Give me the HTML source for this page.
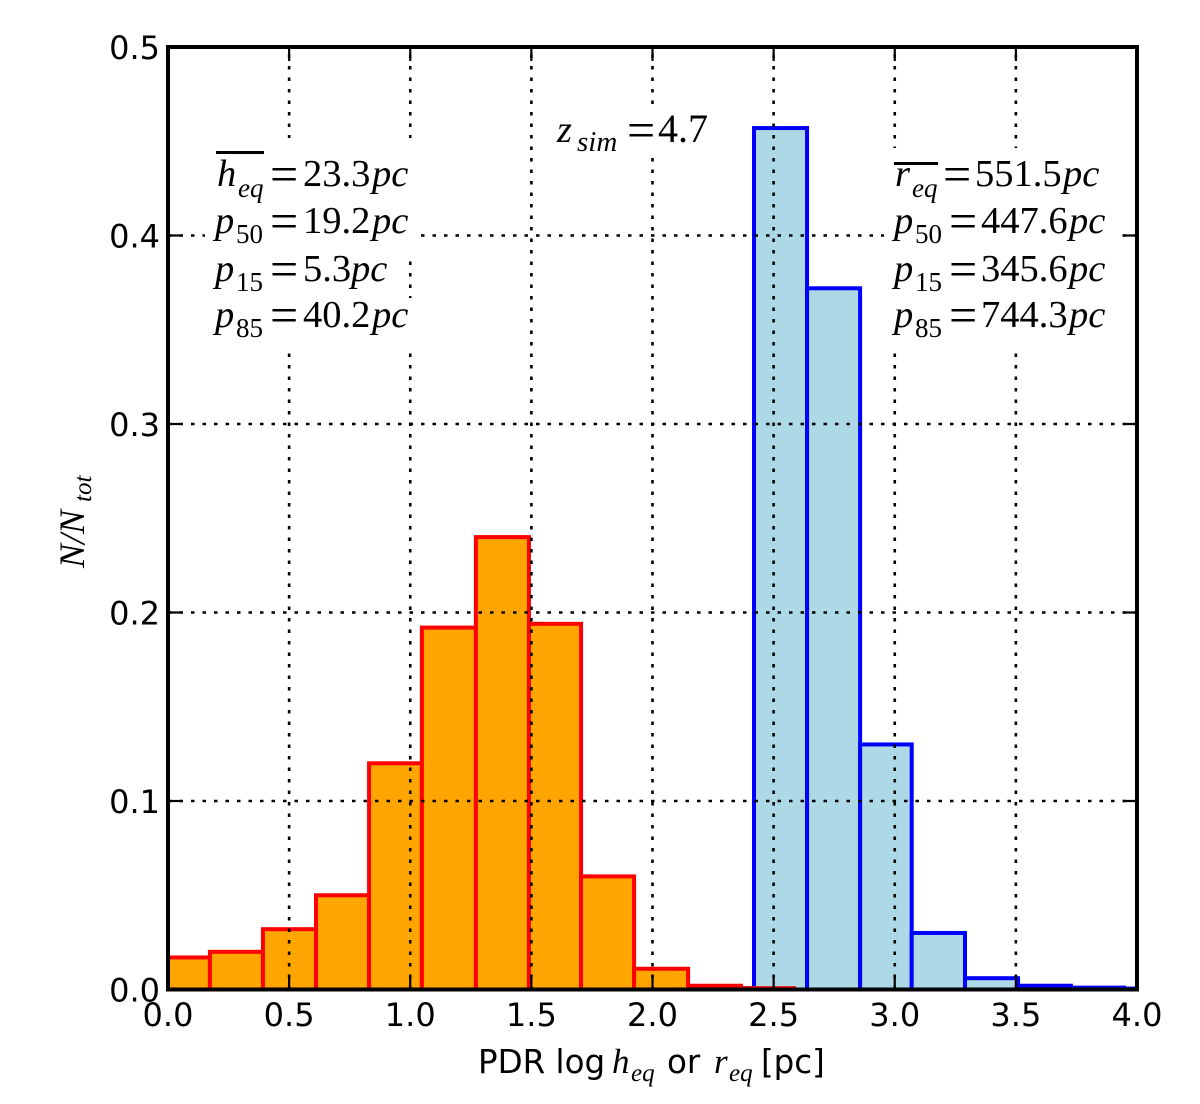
<!DOCTYPE html>
<html lang="en">
<head>
<meta charset="utf-8">
<title>PDR size histogram</title>
<style>
html,body{margin:0;padding:0;background:#fff;}
svg{display:block;}
.tick{font-family:"DejaVu Sans",sans-serif;font-size:32px;fill:#000;}
.title{font-family:"DejaVu Sans",sans-serif;font-size:32.5px;fill:#000;}
.m{font-family:"Liberation Serif",serif;font-size:38.5px;fill:#000;}
.i{font-style:italic;}
.s{font-size:27px;}
.e{font-size:50px;}
</style>
</head>
<body>
<svg id="chart" width="1200" height="1104" viewBox="0 0 1200 1104" xmlns="http://www.w3.org/2000/svg">
<defs><clipPath id="plot-clip"><rect x="168" y="47" width="969" height="942.5"/></clipPath></defs>
<rect width="1200" height="1104" fill="#fff"/>
<g id="bars-blue" clip-path="url(#plot-clip)"></g>
<g id="bars-orange" clip-path="url(#plot-clip)"></g>
<g id="grid"></g>

<g fill="#fff">
<rect x="547" y="108" width="171" height="50"/>
<rect x="205" y="138" width="215" height="70"/>
<rect x="205" y="208" width="215" height="49"/>
<rect x="205" y="257" width="195" height="41"/>
<rect x="205" y="298" width="215" height="49"/>
<rect x="884" y="148" width="236" height="60"/>
<rect x="884" y="208" width="236" height="139"/>
</g>

<g id="annotation-redshift">
<text class="m"><tspan class="i" x="557" y="142">z</tspan><tspan class="i s" x="577" y="151" style="font-size:29px">sim</tspan><tspan class="e" x="627" y="147">=</tspan><tspan x="658" y="142" style="font-size:40px">4.7</tspan></text>
</g>

<g>
<rect x="216" y="151" width="48" height="3" fill="#000"/>
<text class="m"><tspan class="i" x="217" y="186">h</tspan><tspan class="i s" x="238" y="197">eq</tspan><tspan class="e" x="270" y="191">=</tspan><tspan x="303" y="186">23.3</tspan><tspan class="i" x="372" y="186">pc</tspan></text>
<text class="m"><tspan class="i" x="215" y="233">p</tspan><tspan class="s" x="236" y="243">50</tspan><tspan class="e" x="270" y="238">=</tspan><tspan x="303" y="233">19.2</tspan><tspan class="i" x="372" y="233">pc</tspan></text>
<text class="m"><tspan class="i" x="215" y="281">p</tspan><tspan class="s" x="236" y="291">15</tspan><tspan class="e" x="270" y="286">=</tspan><tspan x="303" y="281">5.3</tspan><tspan class="i" x="351" y="281">pc</tspan></text>
<text class="m"><tspan class="i" x="215" y="327">p</tspan><tspan class="s" x="236" y="337">85</tspan><tspan class="e" x="270" y="332">=</tspan><tspan x="303" y="327">40.2</tspan><tspan class="i" x="372" y="327">pc</tspan></text>
</g>

<g>
<rect x="894" y="162" width="44" height="3" fill="#000"/>
<text class="m"><tspan class="i" x="895" y="186">r</tspan><tspan class="i s" x="912" y="197">eq</tspan><tspan class="e" x="943" y="191">=</tspan><tspan x="975" y="186">551.5</tspan><tspan class="i" x="1063" y="186">pc</tspan></text>
<text class="m"><tspan class="i" x="894" y="233">p</tspan><tspan class="s" x="915" y="243">50</tspan><tspan class="e" x="949" y="238">=</tspan><tspan x="981" y="233">447.6</tspan><tspan class="i" x="1069" y="233">pc</tspan></text>
<text class="m"><tspan class="i" x="894" y="281">p</tspan><tspan class="s" x="915" y="291">15</tspan><tspan class="e" x="949" y="286">=</tspan><tspan x="981" y="281">345.6</tspan><tspan class="i" x="1069" y="281">pc</tspan></text>
<text class="m"><tspan class="i" x="894" y="327">p</tspan><tspan class="s" x="915" y="337">85</tspan><tspan class="e" x="949" y="332">=</tspan><tspan x="981" y="327">744.3</tspan><tspan class="i" x="1069" y="327">pc</tspan></text>
</g>

<g id="ticks"></g>
<rect x="168" y="47" width="969" height="942.5" fill="none" stroke="#000" stroke-width="4"/>
<g id="tick-labels"></g>

<text class="title"><tspan x="478" y="1073">PDR log</tspan><tspan class="m i" style="font-size:35px" x="612" y="1073">h</tspan><tspan class="m i" style="font-size:25px" x="631" y="1081">eq</tspan><tspan x="667" y="1073">or</tspan><tspan class="m i" style="font-size:35px" x="714" y="1073">r</tspan><tspan class="m i" style="font-size:25px" x="729" y="1081">eq</tspan><tspan x="761" y="1073">[pc]</tspan></text>

<text class="m i" style="font-size:36px" transform="translate(84,568) rotate(-90)"><tspan x="0" y="0">N/N</tspan><tspan style="font-size:25px" x="66" y="7">tot</tspan></text>
</svg>

<script>
const orangeEdges = [-0.045, 0.173, 0.392, 0.611, 0.83, 1.048, 1.271, 1.49, 1.705, 1.924, 2.147, 2.365, 2.584];
const orangeValues = [0.017, 0.020, 0.032, 0.050, 0.120, 0.192, 0.240, 0.194, 0.060, 0.011, 0.002, 0.0007];
const blueEdges = [2.2, 2.419, 2.638, 2.857, 3.07, 3.29, 3.509, 3.727, 3.946, 4.165];
const blueValues = [0.0007, 0.457, 0.372, 0.130, 0.030, 0.006, 0.002, 0.001, 0.0005];
const xTicks = [0, 0.5, 1, 1.5, 2, 2.5, 3, 3.5, 4];
const yTicks = [0, 0.1, 0.2, 0.3, 0.4, 0.5];

const NS = 'http://www.w3.org/2000/svg';
const xScale = v => 168 + (v - 0) / 4 * 969;
const yScale = v => 989.5 - (v - 0) / 0.5 * 942.5;

function make(tag, attrs, parent) {
  const el = document.createElementNS(NS, tag);
  for (const k in attrs) el.setAttribute(k, attrs[k]);
  parent.appendChild(el);
  return el;
}

function drawBars(groupId, edges, values, fill, stroke, nameBase) {
  const g = document.getElementById(groupId);
  values.forEach((v, i) => {
    const x0 = xScale(edges[i]);
    const x1 = xScale(edges[i + 1]);
    const y = yScale(v);
    const bar = make('rect', {
      x: x0, y: y, width: x1 - x0, height: yScale(0) - y,
      fill: fill, stroke: stroke, 'stroke-width': 4
    }, g);
    
    
  });
}
drawBars('bars-blue', blueEdges, blueValues, '#add8e6', '#0000ff', 'req');
drawBars('bars-orange', orangeEdges, orangeValues, '#ffa500', '#ff0000', 'heq');

const grid = document.getElementById('grid');
const ticks = document.getElementById('ticks');
const labels = document.getElementById('tick-labels');
const gridStyle = { stroke: '#000', 'stroke-width': 2.6, 'stroke-dasharray': '3.5 8' };
const tickStyle = { stroke: '#000', 'stroke-width': 2.2 };

xTicks.forEach(t => {
  const x = xScale(t);
  if (t > 0 && t < 4) {
    const gl = make('line', Object.assign({ x1: x, x2: x, y1: 989.5, y2: 47 }, gridStyle), grid);
    
    
    [[989.5, 975], [47, 61]].forEach(p => {
      const tk = make('line', Object.assign({ x1: x, x2: x, y1: p[0], y2: p[1] }, tickStyle), ticks);
      
      
    });
  }
  const lb = make('text', { x: x, y: 1026, 'text-anchor': 'middle', class: 'tick' }, labels);
  lb.textContent = t.toFixed(1);
  
  
});

yTicks.forEach(t => {
  const y = yScale(t);
  if (t > 0 && t < 0.5) {
    const gl = make('line', Object.assign({ x1: 168, x2: 1137, y1: y, y2: y }, gridStyle), grid);
    
    
    [[168, 182], [1137, 1123]].forEach(p => {
      const tk = make('line', Object.assign({ x1: p[0], x2: p[1], y1: y, y2: y }, tickStyle), ticks);
      
      
    });
  }
  const lb = make('text', { x: 160, y: y + 12, 'text-anchor': 'end', class: 'tick' }, labels);
  lb.textContent = t.toFixed(1);
  
  
});
</script>
</body>
</html>
